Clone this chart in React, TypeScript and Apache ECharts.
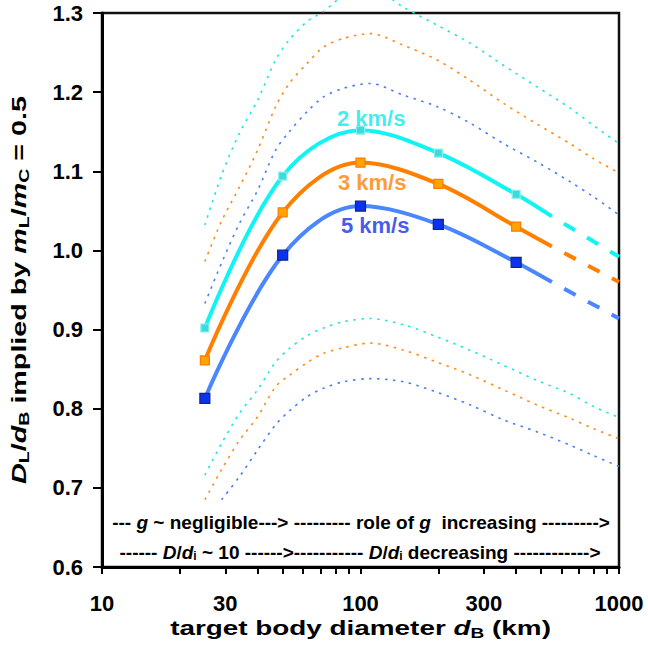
import React, { useEffect, useRef } from 'react';
import * as echarts from 'echarts';

const FONT = '"Liberation Sans", Arial, Helvetica, sans-serif';

// Solid curves with square markers (target diameter in km)
const markerD = [25, 50, 100, 200, 400];
const v2 = [0.902, 1.094, 1.152, 1.123, 1.071];
const v3 = [0.861, 1.048, 1.111, 1.084, 1.03];
const v5 = [0.813, 0.994, 1.056, 1.033, 0.985];

// Extension: solid up to extD[0], dashed to extD[1]
const extD = [550, 1000];
const ext2 = [1.043, 0.992];
const ext3 = [1.005, 0.96];
const ext5 = [0.96, 0.914];

// Dotted bounding curves
const boundD = [25, 29, 34, 40, 47, 53, 62, 72, 86, 109, 147, 197, 265, 357, 480, 646, 795, 1000];
const up2 = [1.032, 1.095, 1.148, 1.19, 1.241, 1.266, 1.289, 1.302, 1.322, 1.332, 1.307, 1.285, 1.262, 1.234, 1.207, 1.18, 1.158, 1.135];
const up3 = [0.986, 1.037, 1.08, 1.127, 1.182, 1.211, 1.236, 1.257, 1.268, 1.274, 1.259, 1.241, 1.215, 1.186, 1.16, 1.135, 1.116, 1.098];
const up5 = [0.933, 0.984, 1.034, 1.076, 1.127, 1.15, 1.175, 1.194, 1.205, 1.211, 1.196, 1.182, 1.161, 1.135, 1.112, 1.087, 1.068, 1.045];
const lo2 = [0.716, 0.756, 0.794, 0.824, 0.859, 0.876, 0.892, 0.902, 0.91, 0.914, 0.906, 0.891, 0.874, 0.855, 0.836, 0.819, 0.803, 0.789];
const lo3 = [0.685, 0.723, 0.76, 0.79, 0.828, 0.842, 0.858, 0.87, 0.877, 0.883, 0.874, 0.859, 0.843, 0.824, 0.805, 0.788, 0.775, 0.762];
const lo5 = [null, 0.685, 0.714, 0.748, 0.78, 0.797, 0.815, 0.826, 0.834, 0.838, 0.834, 0.821, 0.805, 0.786, 0.771, 0.754, 0.741, 0.727];

const xLabelValues = [10, 30, 100, 300, 1000];
const xTickValues = [10, 20, 30, 40, 50, 60, 70, 80, 90, 100, 200, 300, 400, 500, 600, 700, 800, 900, 1000];

const speedLabels = ['2 km/s', '3 km/s', '5 km/s'];
const speedLabelD = [110, 111, 114];
const speedLabelV = [1.167, 1.086, 1.031];
const speedLabelColors = ['#0EEAEA', '#FF8000', '#1230E8'];

const xTitle = '{n|target body diameter }{i|d}{s|B}{n| (km)}';
const yTitle = '{i|D}{s|L}{n|/}{i|d}{s|B}{n| implied by }{i|m}{s|L}{n|/}{i|m}{s|C}{n| = 0.5}';
const annotationLine1 = '{n|--- }{i|g}{n| ~ negligible---> --------- role of }{i|g}{n|  increasing --------->}';
const annotationLine2 = '{n|------ }{i|D}{n|/}{i|d}{s|i}{n| ~ 10 ------>----------- }{i|D}{n|/}{i|d}{s|i}{n| decreasing ------------>}';

const COLORS = {
  cyanLine: '#10F4F4',
  orangeLine: '#FF8000',
  blueLine: '#4A86FF',
  cyanDot: '#1EE6E6',
  orangeDot: '#FF8A1C',
  blueDot: '#4A7CF5',
};

const makeRich = (size: number, subSize: number, subPad: number) => ({
  n: { fontSize: size, fontWeight: 'bold', fontFamily: FONT, color: '#000' },
  i: { fontSize: size, fontWeight: 'bold', fontStyle: 'italic', fontFamily: FONT, color: '#000' },
  s: { fontSize: subSize, fontWeight: 'bold', fontFamily: FONT, color: '#000', padding: [subPad, 0, 0, 0] },
});

const pairs = (xs: number[], ys: (number | null)[]) => xs.map((x, i) => [x, ys[i]]);

const dotted = (ys: (number | null)[], color: string, clip = true) => ({
  type: 'line',
  data: pairs(boundD, ys),
  smooth: 0.3,
  showSymbol: false,
  symbol: 'none',
  clip,
  z: 1,
  lineStyle: { color, width: 1.6, type: [2.5, 5.5] },
});

const solid = (ys: number[], ext: number[], color: string) => ({
  type: 'line',
  data: pairs(markerD, ys).concat([[extD[0], ext[0]]]),
  smooth: 0.35,
  showSymbol: false,
  symbol: 'none',
  z: 3,
  lineStyle: { color, width: 4 },
});

const dashed = (ext: number[], color: string) => ({
  type: 'line',
  data: pairs(extD, ext),
  showSymbol: false,
  symbol: 'none',
  z: 3,
  lineStyle: { color, width: 4, type: [13, 14], dashOffset: 13 },
});

const markers = (ys: number[], fill: string, border: string, size: number) => ({
  type: 'scatter',
  data: pairs(markerD, ys),
  symbol: 'rect',
  symbolSize: size,
  z: 4,
  itemStyle: { color: fill, borderColor: border, borderWidth: 1.2, opacity: 1 },
});

const option = {
  animation: false,
  backgroundColor: '#fff',
  grid: {
    left: 102,
    right: 29,
    top: 13,
    bottom: 86,
    show: true,
    borderColor: '#111',
    borderWidth: 2.5,
    containLabel: false,
    outerBoundsMode: 'none',
  },
  xAxis: {
    type: 'log',
    logBase: 10,
    min: 10,
    max: 1000,
    axisLine: { show: true, onZero: false, lineStyle: { color: '#000', width: 3 } },
    axisTick: { show: true, inside: false, length: 7, lineStyle: { color: '#000', width: 2 }, customValues: xTickValues },
    minorTick: { show: false },
    splitLine: { show: false },
    axisLabel: {
      customValues: xLabelValues,
      formatter: (v: number) => String(Math.round(v)),
      fontSize: 22,
      fontWeight: 'bold',
      fontFamily: FONT,
      color: '#000',
      margin: 25,
    },
  },
  yAxis: {
    type: 'value',
    min: 0.6,
    max: 1.3,
    interval: 0.1,
    axisLine: { show: true, lineStyle: { color: '#000', width: 3 } },
    axisTick: { show: true, inside: false, length: 9, lineStyle: { color: '#000', width: 2 } },
    splitLine: { show: false },
    axisLabel: {
      formatter: (v: number) => v.toFixed(1),
      fontSize: 22,
      fontWeight: 'bold',
      fontFamily: FONT,
      color: '#000',
      margin: 19,
    },
  },
  series: [
    dotted(up2, COLORS.cyanDot, false),
    dotted(up3, COLORS.orangeDot),
    dotted(up5, COLORS.blueDot),
    dotted(lo2, COLORS.cyanDot),
    dotted(lo3, COLORS.orangeDot),
    dotted(lo5, COLORS.blueDot),
    solid(v2, ext2, COLORS.cyanLine),
    solid(v3, ext3, COLORS.orangeLine),
    solid(v5, ext5, COLORS.blueLine),
    dashed(ext2, COLORS.cyanLine),
    dashed(ext3, COLORS.orangeLine),
    dashed(ext5, COLORS.blueLine),
    markers(v2, '#3ADCDC', '#8FEDED', 8),
    markers(v3, '#FFA500', '#FF7A00', 9),
    markers(v5, '#0A32F0', '#122585', 10),
    {
      type: 'scatter',
      symbolSize: 1,
      z: 6,
      itemStyle: { color: 'rgba(0,0,0,0)' },
      data: speedLabels.map((t, i) => ({
        name: t,
        value: [speedLabelD[i], speedLabelV[i]],
        label: { color: speedLabelColors[i] },
      })),
      label: {
        show: true,
        position: 'inside',
        formatter: '{b}',
        fontSize: 22,
        fontWeight: 'bold',
        fontFamily: FONT,
      },
      labelLayout: { hideOverlap: false },
      emphasis: { disabled: true },
    },
  ],
  graphic: [
    {
      type: 'text',
      z: 101,
      x: 360.5,
      y: 628,
      scaleX: 1.36,
      style: {
        text: xTitle,
        rich: makeRich(20.5, 14, 10),
        align: 'center',
        verticalAlign: 'middle',
        fontSize: 20.5,
        fontWeight: 'bold',
        fontFamily: FONT,
      },
    },
    {
      type: 'text',
      z: 101,
      x: 19,
      y: 290,
      rotation: Math.PI / 2,
      scaleX: 1.4,
      style: {
        text: yTitle,
        rich: makeRich(20.5, 14, 10),
        align: 'center',
        verticalAlign: 'middle',
        fontSize: 20.5,
        fontWeight: 'bold',
        fontFamily: FONT,
      },
    },
    {
      type: 'rect',
      z: 100,
      shape: { x: 104, y: 504, width: 513, height: 61 },
      style: { fill: '#fff' },
    },
    {
      type: 'text',
      z: 101,
      x: 361,
      y: 522,
      style: {
        text: annotationLine1,
        rich: makeRich(19, 12, 8),
        align: 'center',
        verticalAlign: 'middle',
        fontSize: 19,
        fontWeight: 'bold',
        fontFamily: FONT,
      },
    },
    {
      type: 'text',
      z: 101,
      x: 360,
      y: 552,
      style: {
        text: annotationLine2,
        rich: makeRich(19, 12, 8),
        align: 'center',
        verticalAlign: 'middle',
        fontSize: 19,
        fontWeight: 'bold',
        fontFamily: FONT,
      },
    },
  ],
};

export default function App() {
  const ref = useRef<HTMLDivElement>(null);
  useEffect(() => {
    const chart = echarts.init(ref.current!, null, { renderer: 'svg' });
    chart.setOption(option as any);
    return () => chart.dispose();
  }, []);
  return <div ref={ref} style={{ position: 'absolute', left: 0, top: 0, width: 648, height: 653 }} />;
}
